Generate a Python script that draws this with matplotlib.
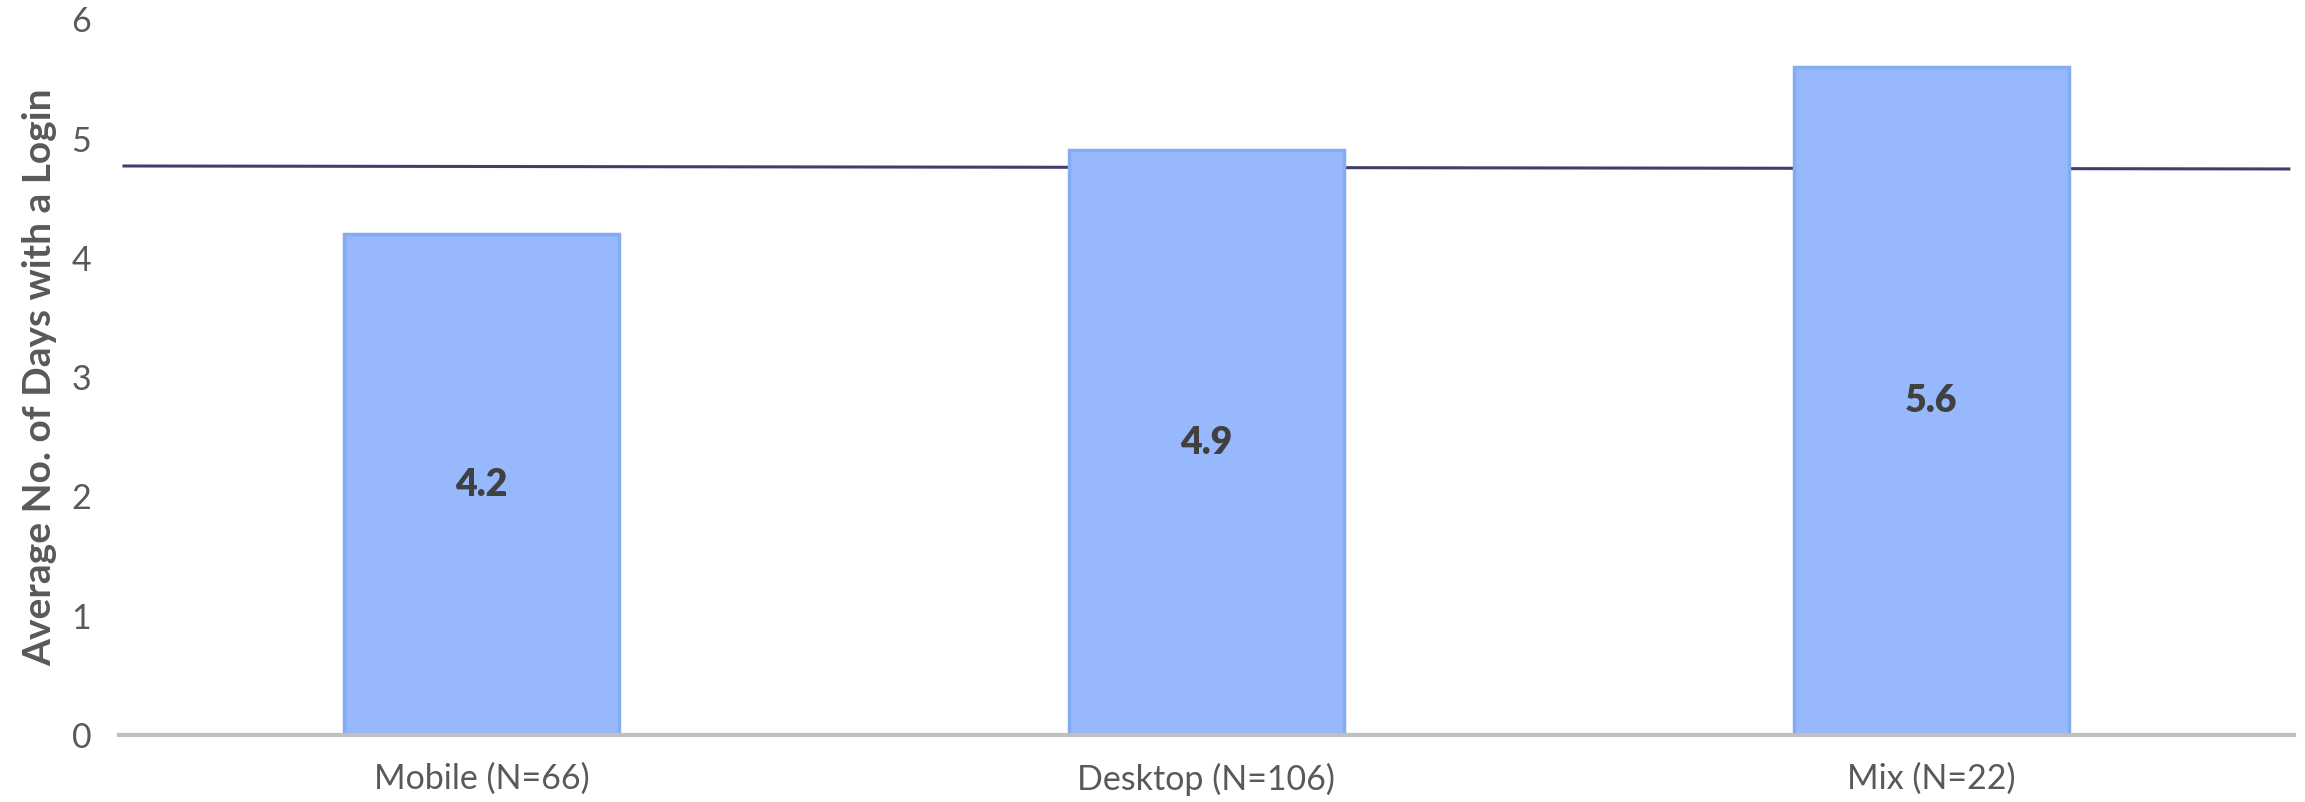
import matplotlib.pyplot as plt
import numpy as np

plt.rcParams['font.family'] = ['Lato', 'DejaVu Sans']

# Chart data
categories = ["Mobile (N=66)", "Desktop (N=106)", "Mix (N=22)"]
avg_days = [4.2, 4.9, 5.6]
# overall average line (slight slope in the original), value at left and right end
avg_line_ends = [4.77, 4.745]
avg_line_x = [-0.493, 2.493]

fig = plt.figure(figsize=(23.05, 8.02), dpi=100)
ax = fig.add_axes([0.0516, 0.0835, 0.9436, 0.8925])

x = np.arange(len(categories))
bars = ax.bar(x, avg_days, width=0.38, color="#97B8FD", edgecolor="#84ACF2",
              linewidth=2.5, zorder=2)

# value labels in the middle of each bar
for rect, val in zip(bars, avg_days):
    ax.text(rect.get_x() + rect.get_width() / 2, val / 2, f"{val:.1f}",
            ha="center", va="center", fontsize=27, fontweight="heavy",
            color="#404040", zorder=4)

# overall average line
ax.plot(avg_line_x, avg_line_ends, color="#3E3F6D", linewidth=2.2, zorder=1)

ax.set_xlim(-0.5, 2.5)
ax.set_ylim(0, 6)
ax.set_yticks(range(0, 7))
ax.set_xticks(x)
ax.set_xticklabels(categories)
ax.tick_params(axis="both", length=0, labelsize=24.5, colors="#595959")
ax.tick_params(axis="x", pad=20)
ax.tick_params(axis="y", pad=20)

ax.set_ylabel("Average No. of Days with a Login", fontsize=28, fontweight="bold",
              color="#595959", labelpad=10)

for side in ["top", "right", "left"]:
    ax.spines[side].set_visible(False)
ax.spines["bottom"].set_color("#BFBFBF")
ax.spines["bottom"].set_linewidth(3)
ax.spines["bottom"].set_zorder(3)

fig.savefig("out.png", dpi=100)
